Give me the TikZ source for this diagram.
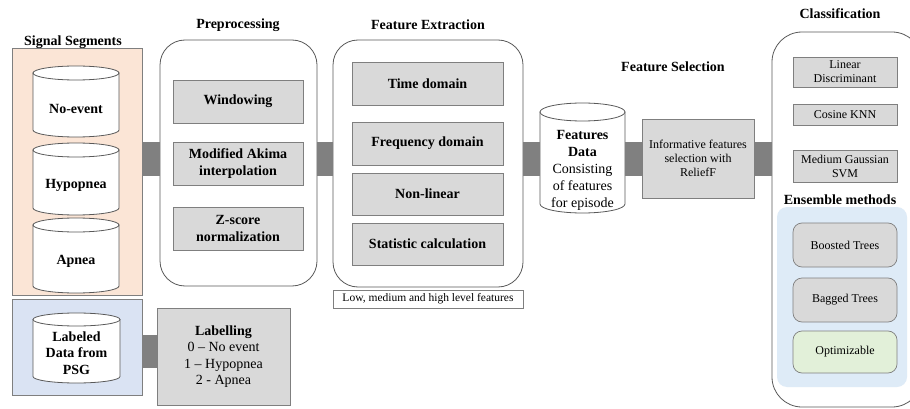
\documentclass[tikz,border=0pt]{standalone}
\usepackage{fontspec}
\setmainfont{Liberation Serif}
\definecolor{peach}{HTML}{FBE5D6}
\definecolor{lavender}{HTML}{DAE3F3}
\definecolor{iceblue}{HTML}{DEEBF7}
\definecolor{boxgray}{HTML}{D9D9D9}
\definecolor{mint}{HTML}{E2F0D9}
\definecolor{barg}{HTML}{808080}
\definecolor{edgeg}{HTML}{7F7F7F}
\definecolor{darkedge}{HTML}{595959}
\newcommand\mycyl[5]{%
  \pgfmathsetmacro\cylrx{(#2-#1)/2}%
  \draw[cylline] ({#1},{#3+#5}) -- ({#1},{#4-#5})
     arc[start angle=180,end angle=360,x radius=\cylrx pt,y radius=#5pt]
     -- ({#2},{#3+#5}) -- cycle;
  \draw[cylline] ({(#1+#2)/2},{#3+#5}) ellipse[x radius=\cylrx pt,y radius=#5pt];
}
\begin{document}
\begin{tikzpicture}[x=1pt,y=-1pt,
  every node/.style={inner sep=0pt,outer sep=0pt,align=center},
  ttl/.style={font=\fontsize{14}{16}\selectfont\bfseries},
  bf/.style={font=\fontsize{14}{16.5}\selectfont\bfseries},
  rm/.style={font=\fontsize{14}{16.5}\selectfont},
  sm/.style={font=\fontsize{12}{14}\selectfont},
  gbox/.style={draw=edgeg,fill=boxgray,line width=0.8pt},
  bigbox/.style={draw=darkedge,fill=white,line width=0.8pt,rounded corners=25pt},
  cylline/.style={draw=darkedge,fill=white,line width=0.8pt},
  bar/.style={draw=barg,line width=34pt},
]
\useasboundingbox (0,0) rectangle (910,409);

% ---------- Signal segments ----------
\node[ttl] (tseg) at (73,42) {Signal Segments};
\node[draw=edgeg,fill=peach,line width=0.8pt,minimum width=130pt,minimum height=247pt] (seg) at (77,171.5) {};
\mycyl{33}{119}{66}{137}{7}
\node[bf] (noevent) at (76,109) {No-event};
\mycyl{33}{119}{143}{215}{7}
\node[bf] (hypo) at (76,185) {Hypopnea};
\mycyl{33}{119}{218}{293}{7}
\node[bf] (apnea) at (76,261) {Apnea};

% ---------- Labeled data ----------
\node[draw=edgeg,fill=lavender,line width=0.8pt,minimum width=130pt,minimum height=96pt] (lab) at (77,347) {};
\mycyl{33}{120}{313}{383}{6.5}
\node[bf] (labtxt) at (76.5,353) {Labeled\\Data from\\PSG};
\node[gbox,rm,minimum width=133pt,minimum height=97pt] (labelling) at (223.5,356.5)
  {\textbf{Labelling}\\0 -- No event\\1 -- Hypopnea\\2 - Apnea};

% ---------- Preprocessing ----------
\node[ttl] (tpre) at (238,25) {Preprocessing};
\node[bigbox,minimum width=157pt,minimum height=246pt] (pre) at (238.5,163) {};
\node[gbox,bf,minimum width=130pt,minimum height=43pt] (win) at (238,101.5) {Windowing};
\node[gbox,bf,minimum width=130pt,minimum height=43pt] (akima) at (238,163.5) {Modified Akima\\interpolation};
\node[gbox,bf,minimum width=130pt,minimum height=43pt] (zs) at (238,228.5) {Z-score\\normalization};

% ---------- Feature extraction ----------
\node[ttl] (tfe) at (428,25) {Feature Extraction};
\node[bigbox,minimum width=190pt,minimum height=247pt] (fe) at (428,163.5) {};
\node[gbox,bf,minimum width=151pt,minimum height=43pt] (time) at (427.5,83.5) {Time domain};
\node[gbox,bf,minimum width=151pt,minimum height=43pt] (freq) at (427.5,143.5) {Frequency domain};
\node[gbox,bf,minimum width=151pt,minimum height=42pt] (nonlin) at (427.5,194) {Non-linear};
\node[gbox,bf,minimum width=151pt,minimum height=42pt] (stat) at (427.5,244) {Statistic calculation};
\node[draw=edgeg,fill=white,line width=0.6pt,minimum width=190pt,minimum height=18pt,font=\fontsize{11.5}{13}\selectfont] (lvl) at (428,299) {Low, medium and high level features};

% ---------- Features data ----------
\mycyl{540}{625}{103}{213}{9}
\node[minimum width=85pt,minimum height=100pt] (fdata) at (582.5,159) {};
\node[font=\fontsize{14}{17}\selectfont] (fdtxt) at (582.5,170)
  {\textbf{Features}\\\textbf{Data}\\Consisting\\of features\\for episode};

% ---------- Feature selection ----------
\node[ttl] (tsel) at (673,67) {Feature Selection};
\node[gbox,sm,minimum width=112pt,minimum height=79pt] (sel) at (698,158.5) {Informative features\\selection with\\ReliefF};

% ---------- Classification ----------
\node[ttl] (tcls) at (840,14) {Classification};
\node[bigbox,rounded corners=30pt,minimum width=150pt,minimum height=375pt] (cls) at (847,219.5) {};
\node[gbox,sm,line width=0.7pt,minimum width=104pt,minimum height=30pt] (lda) at (845,72) {Linear\\Discriminant};
\node[gbox,sm,line width=0.7pt,minimum width=104pt,minimum height=21pt] (knn) at (845,115) {Cosine KNN};
\node[gbox,sm,line width=0.7pt,minimum width=104pt,minimum height=32pt] (svm) at (845,166) {Medium Gaussian\\SVM};
\node[ttl] (tens) at (840,200) {Ensemble methods};
\node[fill=iceblue,rounded corners=10pt,minimum width=130pt,minimum height=180pt] (ens) at (842,297) {};
\node[gbox,sm,rounded corners=9pt,line width=0.7pt,minimum width=104pt,minimum height=44pt] (boost) at (845,245) {Boosted Trees};
\node[gbox,sm,rounded corners=9pt,line width=0.7pt,minimum width=104pt,minimum height=44pt] (bag) at (845,300) {Bagged Trees};
\node[gbox,sm,fill=mint,rounded corners=9pt,line width=0.7pt,minimum width=104pt,minimum height=42pt] (opt) at (845,352) {Optimizable};

% ---------- Connector bars ----------
\draw[bar] (seg.east |- 0,159) -- (pre.west |- 0,159);
\draw[bar] (pre.east |- 0,159) -- (fe.west |- 0,159);
\draw[bar] (fe.east |- 0,159) -- (fdata.west |- 0,159);
\draw[bar] (fdata.east |- 0,159) -- (sel.west |- 0,159);
\draw[bar] (sel.east |- 0,159) -- (cls.west |- 0,159);
\draw[bar,line width=33pt] (lab.east |- 0,351.5) -- (labelling.west |- 0,351.5);
\end{tikzpicture}
\end{document}
